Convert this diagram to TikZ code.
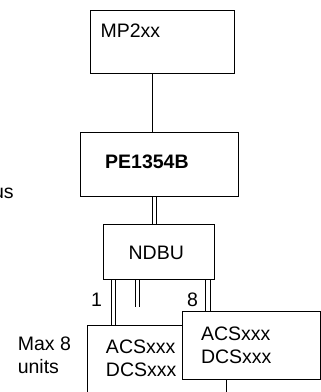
\documentclass[tikz,border=0pt]{standalone}
\usepackage{fontspec}
\setmainfont{Liberation Sans}
\begin{document}
\begin{tikzpicture}[x=1pt,y=-1pt,
  box/.style={draw=black,line width=0.9pt,fill=white,rectangle,inner sep=0pt,outer sep=0pt},
  lbl/.style={inner sep=0pt,outer sep=0pt,font=\fontsize{19.5}{22.7}\selectfont},
  wire/.style={draw=black,line width=0.8pt}]
\useasboundingbox (0,0) rectangle (321,392);
\clip (0,0) rectangle (321,392);
% x positions of the wires
\coordinate (xa) at (152.4,0);
\coordinate (xb) at (156.6,0);
\coordinate (xc) at (111,0);
\coordinate (xd) at (115,0);
\coordinate (xe) at (135.5,0);
\coordinate (xf) at (139.8,0);
\coordinate (xg) at (205.7,0);
\coordinate (xh) at (209.9,0);
\coordinate (midend) at (0,307);
% boxes
\node[box,minimum width=144pt,minimum height=63pt] (mp) at (162,41.5) {};
\node[box,minimum width=158pt,minimum height=64pt] (pe) at (159,164) {};
\node[box,minimum width=111pt,minimum height=55pt] (ndbu) at (159.35,251.5) {};
\node[box,minimum width=138.8pt,minimum height=90pt] (u1) at (156.9,370) {};
\node[box,minimum width=138pt,minimum height=68pt] (u8) at (251,345) {};
% texts
\node[lbl,anchor=base west] (tmp) at (100.6,37) {MP2xx};
\node[lbl,anchor=base west,font=\fontsize{19.5}{22.7}\selectfont\bfseries] (tpe) at (105.2,168.3) {PE1354B};
\node[lbl,anchor=base west] (tnd) at (128.6,259) {NDBU};
\node[lbl,anchor=north west,align=left] (tu1) at (106,340) {ACSxxx\\DCSxxx};
\node[lbl,anchor=north west,align=left] (tu8) at (201,326.7) {ACSxxx\\DCSxxx};
\node[lbl,anchor=north west,align=left] (tmax) at (17.8,337) {Max 8\\units};
\node[lbl,anchor=base] (one) at (96.6,306.7) {1};
\node[lbl,anchor=base] (eight) at (192.5,306.7) {8};
\node[lbl,anchor=base east] (tus) at (13.6,198.3) {us};
% connectors
\draw[wire] (mp.south -| xa) -- (pe.north -| xa);
\draw[wire] (pe.south -| xa) -- (ndbu.north -| xa);
\draw[wire] (pe.south -| xb) -- (ndbu.north -| xb);
\draw[wire] (ndbu.south -| xc) -- (u1.north -| xc);
\draw[wire] (ndbu.south -| xd) -- (u1.north -| xd);
\draw[wire] (ndbu.south -| xe) -- (midend -| xe);
\draw[wire] (ndbu.south -| xf) -- (midend -| xf);
\draw[wire] (ndbu.south -| xg) -- (u8.north -| xg);
\draw[wire] (ndbu.south -| xh) -- (u8.north -| xh);
\end{tikzpicture}
\end{document}
